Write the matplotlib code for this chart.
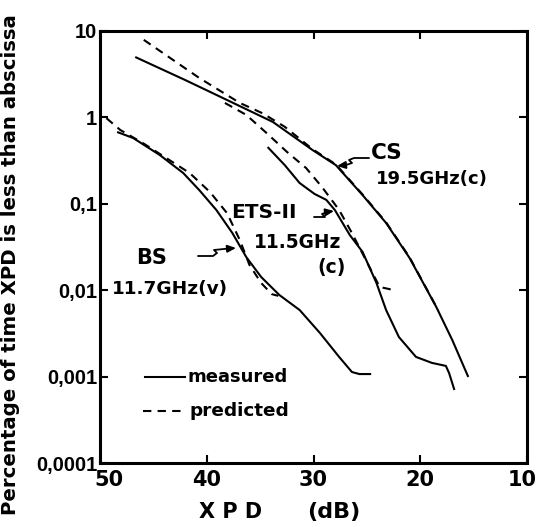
"""
    XPD cumulative distributions, measured vs predicted
"""
import numpy as np
import matplotlib
matplotlib.use("Agg")
import matplotlib.pyplot as plt
from matplotlib.path import Path
from matplotlib.patches import FancyArrowPatch
from matplotlib.transforms import IdentityTransform, ScaledTranslation

# CS 19.5 GHz (c)
cs_meas_x = [46.7, 42.0, 38.1, 33.8, 30.1, 27.9, 25.4, 23.2, 21.0, 18.5, 17.0, 15.5]
cs_meas_y = [5.0, 2.7, 1.59, 0.885, 0.42, 0.28, 0.126, 0.06, 0.0236, 0.0064, 0.00265, 0.00099]
cs_pred_x = [45.9, 40.7, 36.9, 34.8, 32.7, 30.1, 27.9, 25.4, 23.2, 21.0, 18.3]
cs_pred_y = [7.9, 2.86, 1.47, 1.12, 0.78, 0.43, 0.285, 0.128, 0.061, 0.024, 0.0058]

# ETS-II 11.5 GHz (c)
ets_meas_x = [34.3, 32.7, 31.3, 29.9, 28.8, 28.0, 26.6, 25.4, 24.1, 23.2, 22.0, 20.4, 18.9, 17.6, 17.3, 16.8]
ets_meas_y = [0.454, 0.281, 0.174, 0.13, 0.111, 0.0848, 0.0435, 0.0277, 0.0121, 0.0059,
              0.00287, 0.00169, 0.00144, 0.00133, 0.0011, 0.0007]
ets_pred_x = [38.3, 36.3, 34.4, 32.5, 30.7, 29.2, 27.6, 26.4, 25.1, 23.8, 22.9, 22.2]
ets_pred_y = [1.47, 1.07, 0.66, 0.40, 0.26, 0.156, 0.0848, 0.0459, 0.0224, 0.0109, 0.0103, 0.0098]

# BS 11.7 GHz (v)
bs_meas_x = [48.4, 46.9, 44.4, 42.2, 40.7, 39.1, 37.6, 36.3, 34.9, 33.2, 31.3, 29.4, 27.6, 26.4, 25.7, 24.6]
bs_meas_y = [0.678, 0.578, 0.367, 0.227, 0.144, 0.0848, 0.0459, 0.0242, 0.0142, 0.0088,
             0.0059, 0.0032, 0.00169, 0.00113, 0.00107, 0.00107]
bs_pred_x = [49.4, 48.1, 46.0, 43.5, 41.6, 39.7, 38.1, 36.9, 36.0, 34.9, 33.9, 33.3]
bs_pred_y = [0.98, 0.715, 0.506, 0.321, 0.227, 0.137, 0.078, 0.038, 0.0196, 0.0121, 0.0090, 0.0086]

x_ticks = [50, 40, 30, 20, 10]
y_ticks = [10, 1, 0.1, 0.01, 0.001, 0.0001]
y_tick_labels = ["10", "1", "0,1", "0,01", "0,001", "0,0001"]

DASH = (0, (4, 3))
LW = 1.5
H = 527

fig = plt.figure(figsize=(5.39, 5.27), dpi=100)
ax = fig.add_axes([100 / 539, 64 / 527, 427 / 539, 432 / 527])
ax.set_yscale("log")

for xs, ys in [(cs_meas_x, cs_meas_y), (ets_meas_x, ets_meas_y), (bs_meas_x, bs_meas_y)]:
    ax.plot(xs, ys, color="black", lw=LW, solid_capstyle="butt")
for xs, ys in [(cs_pred_x, cs_pred_y), (ets_pred_x, ets_pred_y), (bs_pred_x, bs_pred_y)]:
    ax.plot(xs, ys, color="black", lw=LW, linestyle=DASH)

ax.set_xlim(50, 10)
ax.set_ylim(0.0001, 10)
ax.set_xticks(x_ticks)
ax.set_xticklabels([str(t) for t in x_ticks], fontfamily="DejaVu Sans", fontweight="bold", fontsize=15)
ax.set_yticks(y_ticks)
ax.set_yticklabels(y_tick_labels, fontfamily="Liberation Sans", fontweight="bold", fontsize=14.5)
ax.minorticks_off()
ax.tick_params(which="major", direction="in", length=6, width=1.5, top=True, right=True, pad=2)
ax.tick_params(axis="x", pad=5)
for s in ax.spines.values():
    s.set_linewidth(2.2)

# nudge the end labels so they stay inside like the original
shift = {"50": 9, "10": -5}
for lbl in ax.get_xticklabels():
    dx = shift.get(lbl.get_text(), 0)
    if dx:
        lbl.set_transform(lbl.get_transform() + ScaledTranslation(dx / 100, 0, fig.dpi_scale_trans))


def put(px, py, txt, size):
    fig.text(px / 539, (H - py) / H, txt, fontsize=size, fontfamily="DejaVu Sans",
             fontweight="bold", va="center", ha="left")


put(371, 153, "CS", 15.5)
put(376, 179, "19.5GHz(c)", 13)
put(231, 213, "ETS-II", 14.5)
put(254, 242, "11.5GHz", 13.4)
put(317, 268, "(c)", 13.5)
put(136, 258, "BS", 15)
put(112, 289, "11.7GHz(v)", 13.3)


def pointer(offsets, tip):
    """squiggly pointer in pixel offsets, arrow at tip"""
    verts = [(tip[0] + dx, H - (tip[1] + dy)) for dx, dy in offsets]
    p = FancyArrowPatch(path=Path(verts), arrowstyle="-|>,head_length=5,head_width=2.2",
                        color="black", lw=1.3, transform=IdentityTransform(), mutation_scale=1)
    fig.add_artist(p)


pointer([(32, -6), (17, -6), (12, -4), (15, -1), (9, 1), (0, 2)], (337, 164))
pointer([(-20, 4), (-9, 4), (-12, 1), (-7, -1), (0, -2)], (334, 213))
pointer([(-38, 7), (-23, 7), (-19, 4), (-22, 1), (-12, 0), (0, -1)], (236, 249))

# legend drawn by hand
ax.plot([0.105, 0.200], [0.199, 0.199], transform=ax.transAxes, color="black", lw=LW)
ax.plot([0.100, 0.200], [0.120, 0.120], transform=ax.transAxes, color="black", lw=LW, linestyle=DASH)
ax.text(0.205, 0.199, "measured", transform=ax.transAxes, fontsize=13, fontweight="bold", va="center")
ax.text(0.210, 0.120, "predicted", transform=ax.transAxes, fontsize=13.3, fontweight="bold", va="center")

fig.text(231 / 539, (H - 512) / H, "X P D", fontsize=15, fontweight="bold", ha="center", va="center")
fig.text(334 / 539, (H - 512) / H, "(dB)", fontsize=16, fontweight="bold", ha="center", va="center")
fig.text(11 / 539, (H - 265) / H, "Percentage of time XPD is less than abscissa", rotation=90,
         fontsize=14.2, fontweight="bold", ha="center", va="center")

fig.savefig("out.png", dpi=100)
